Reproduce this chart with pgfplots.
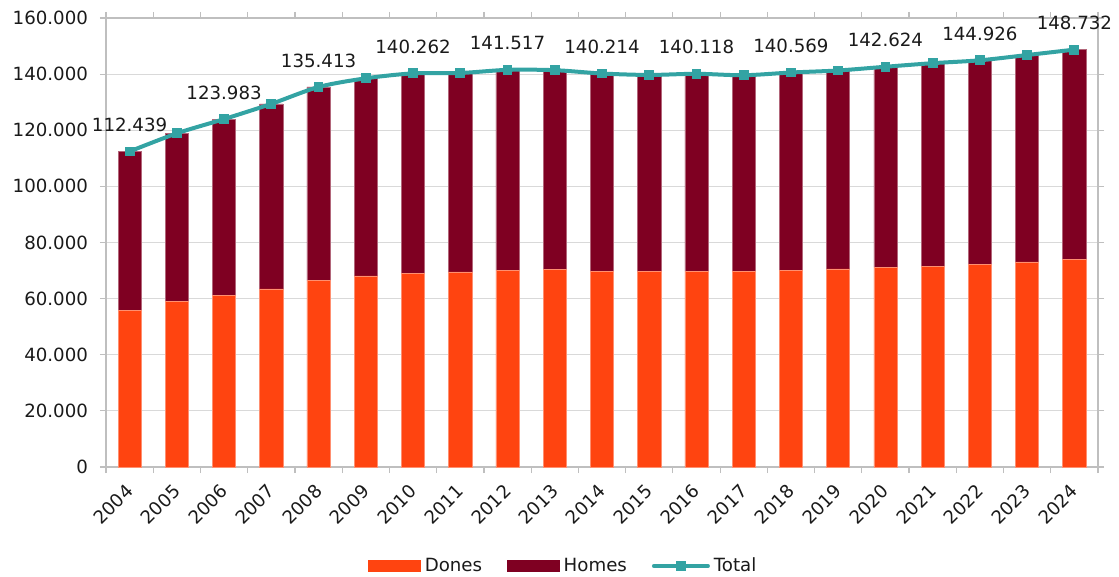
\documentclass[border=0pt]{standalone}
\usepackage{fontspec}
\setmainfont{DejaVu Sans}
\usepackage{pgfplots}
\pgfplotsset{compat=1.18}
\definecolor{dones}{HTML}{FF4410}
\definecolor{homes}{HTML}{7F0022}
\definecolor{totalc}{HTML}{33A3A3}
\definecolor{gridc}{HTML}{D9D9D9}
\definecolor{axisc}{HTML}{BFBFBF}
\definecolor{textc}{HTML}{1A1A1A}
\newcommand{\fs}{\fontsize{9.1bp}{11bp}\selectfont}
\begin{document}
\begin{tikzpicture}
\useasboundingbox (-53bp,-55bp) rectangle (506.5bp,233.5bp);
\begin{axis}[
  scale only axis, width=496bp, height=224.5bp,
  ybar stacked, bar width=11.6bp,
  xmin=-0.5, xmax=20.5, ymin=0, ymax=160000,
  xtick={-0.5,0.5,1.5,2.5,3.5,4.5,5.5,6.5,7.5,8.5,9.5,10.5,11.5,12.5,13.5,14.5,15.5,16.5,17.5,18.5,19.5,20.5},
  x tick label as interval,
  xticklabels={2004,2005,2006,2007,2008,2009,2010,2011,2012,2013,2014,2015,2016,2017,2018,2019,2020,2021,2022,2023,2024},
  ytick={0,20000,40000,60000,80000,100000,120000,140000,160000},
  scaled y ticks=false,
  yticklabel style={/pgf/number format/fixed, /pgf/number format/precision=0,
    /pgf/number format/1000 sep={.}, /pgf/number format/assume math mode=true,
    /tikz/xshift=-2.5bp},
  xticklabel style={xshift=2.5bp, yshift=-5bp, rotate=45, anchor=east},
  every tick label/.append style={font=\fs, text=textc},
  tick align=outside, major tick length=3bp,
  tick style={draw=axisc, line width=0.6bp},
  ymajorgrids, xmajorgrids=false,
  grid style={draw=gridc, line width=0.6bp},
  axis line style={draw=axisc, line width=0.6bp},
  legend style={at={(0.462,-0.2205)}, anchor=center, draw=none, font=\fs, text=textc,
    legend columns=-1, /tikz/every even column/.append style={column sep=10.5bp}},
  legend cell align=left,
]
\addplot[fill=dones, draw=dones!60!white, line width=0.3bp,
  legend image code/.code={\fill[dones] (0bp,-2.75bp) rectangle (26bp,2.75bp);}]
  coordinates {(0,55900) (1,58900) (2,61200) (3,63500) (4,66400) (5,68100) (6,69100) (7,69500) (8,70100) (9,70300) (10,69800) (11,69600) (12,69700) (13,69600) (14,70100) (15,70600) (16,71200) (17,71600) (18,72200) (19,73100) (20,74100)};
\addlegendentry{Dones}
\addplot[fill=homes, draw=homes!60!white, line width=0.3bp,
  legend image code/.code={\fill[homes] (0bp,-2.75bp) rectangle (26bp,2.75bp);}]
  coordinates {(0,56539) (1,60000) (2,62783) (3,65900) (4,69013) (5,70400) (6,71162) (7,70900) (8,71417) (9,71100) (10,70414) (11,70100) (12,70418) (13,70000) (14,70469) (15,70700) (16,71424) (17,72300) (18,72726) (19,73700) (20,74632)};
\addlegendentry{Homes}
\addlegendimage{legend image code/.code={\draw[totalc, line width=2bp, line cap=round] (0bp,0bp) -- (27bp,0bp);
     \fill[totalc] (11.3bp,-2.3bp) rectangle (15.7bp,2.3bp);}}
\addlegendentry{Total}
\end{axis}
\begin{axis}[
  scale only axis, width=496bp, height=224.5bp,
  xmin=-0.5, xmax=20.5, ymin=0, ymax=160000,
  axis lines=none, ticks=none, clip=false,
]
\addplot[smooth, draw=totalc, line width=2bp,
  mark=square*, mark size=2.2bp, mark options={fill=totalc, draw=totalc, line width=0bp},
  nodes near coords, point meta=explicit symbolic,
  nodes near coords style={anchor=south, yshift=6.5bp, font=\fs, text=textc}]
  coordinates {(0,112439)[112.439] (1,118900)[] (2,123983)[123.983] (3,129400)[] (4,135413)[135.413] (5,138500)[] (6,140262)[140.262] (7,140400)[] (8,141517)[141.517] (9,141400)[] (10,140214)[140.214] (11,139700)[] (12,140118)[140.118] (13,139600)[] (14,140569)[140.569] (15,141300)[] (16,142624)[142.624] (17,143900)[] (18,144926)[144.926] (19,146800)[] (20,148732)[148.732]};
\end{axis}
\end{tikzpicture}
\end{document}
